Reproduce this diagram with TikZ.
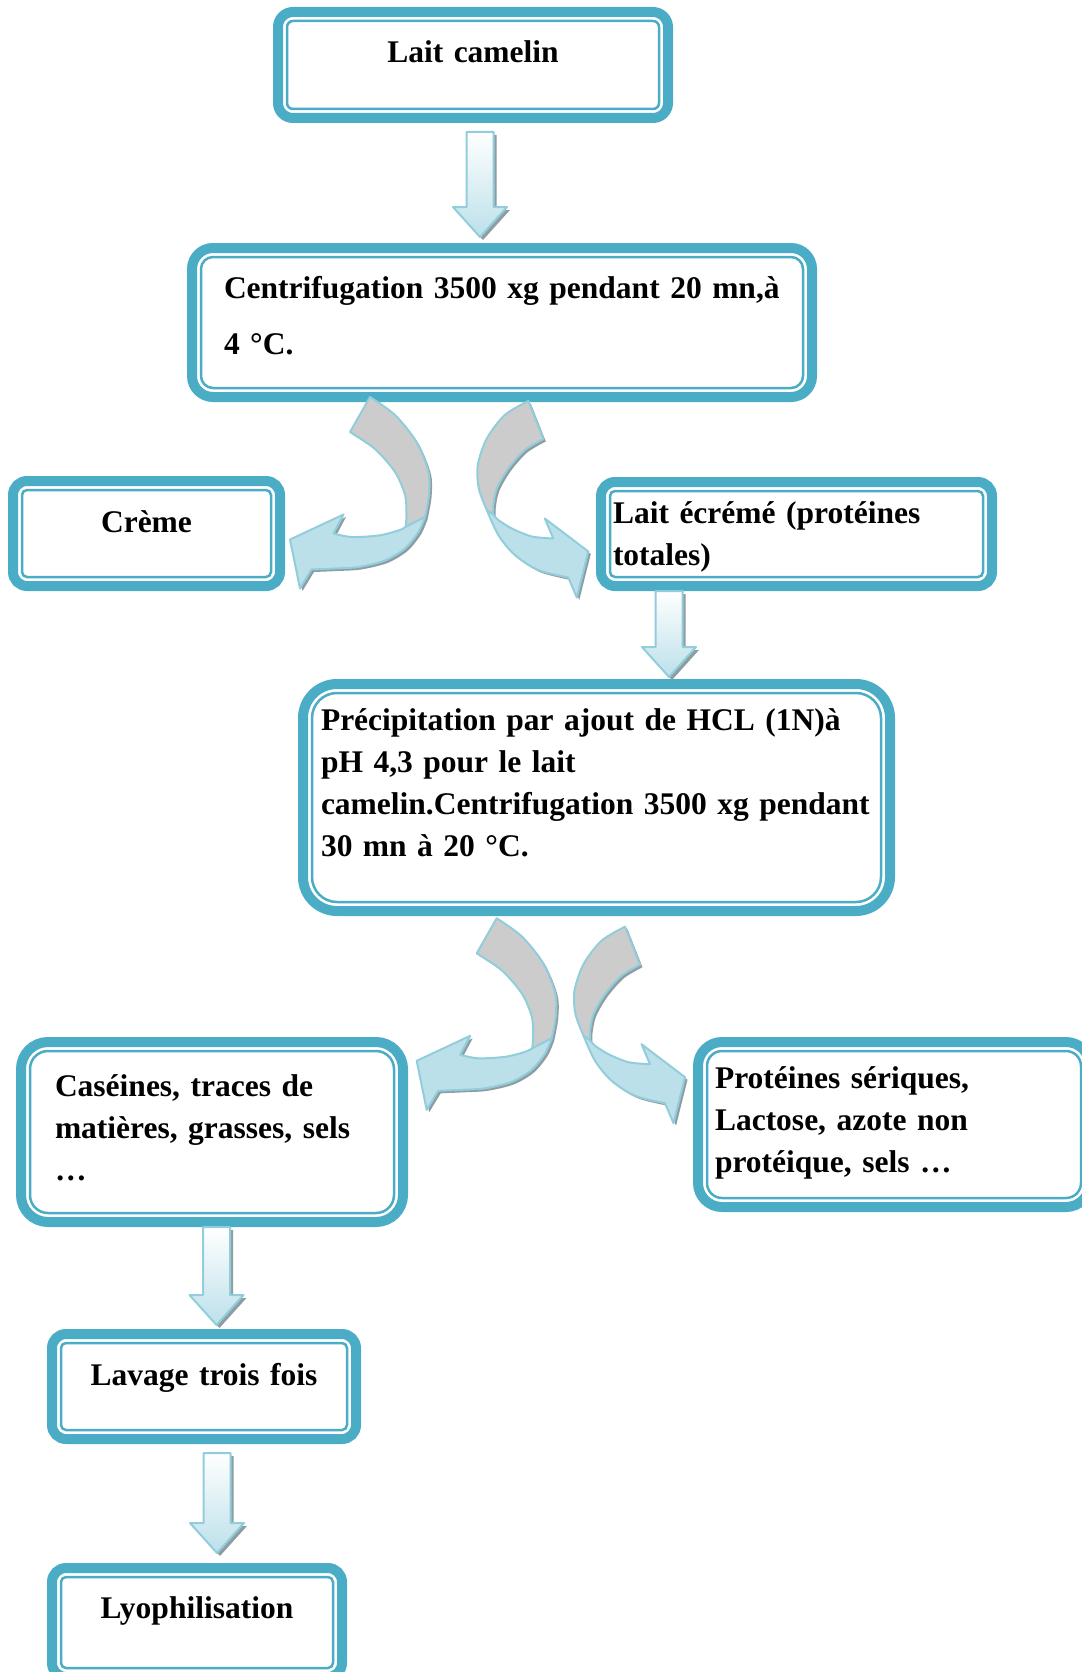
\documentclass[tikz,border=0pt]{standalone}
\usepackage{fontspec}
\setmainfont{Liberation Serif}
\usetikzlibrary{calc}
\hyphenpenalty=10000
\frenchspacing

\definecolor{bleubord}{HTML}{4BACC6}
\definecolor{flechebord}{HTML}{92CDDC}
\definecolor{flechefond}{HTML}{BCE0EA}
\definecolor{dosgris}{HTML}{CCCCCC}
\definecolor{ombregris}{HTML}{8E9DA2}

\tikzset{
  boite/.style={draw=bleubord, line width=10, fill=white, outer sep=0,
    inner ysep=0, rounded corners=#1, font=\bfseries\fontsize{31.5}{42}\selectfont},
  filet/.style={draw=bleubord, line width=2.5},
  ombre/.style={fill=ombregris},
  fleche/.style={draw=flechebord, line width=2, line join=round},
  % --- curved arrow going left (back in grey, front in blue) ---
  dosG/.style={insert path={plot[smooth] coordinates {(0,0) (25,18) (46.5,45) (58.5,75) (59,98) (55,120)}
    -- plot[smooth] coordinates {(35.5,130) (36.5,118) (35,98) (25,75) (5,52) (-20,35)} -- cycle}},
  ventreG/.style={insert path={plot[smooth] coordinates {(55,120) (48.5,135) (35,151.5) (15,163.5) (-11.5,170) (-35,171.5) (-58.5,172.5)}
    -- (-70,191.5) -- (-80,142.5) -- (-26.5,117.5)
    -- plot[smooth] coordinates {(-36.5,136.5) (-18.5,140) (8.5,138.5) (28.5,133.5) (35.5,130)} -- cycle}},
  % --- curved arrow going right ---
  dosD/.style={insert path={plot[smooth] coordinates {(0,0) (-23.5,14) (-41.5,37.5) (-50.5,64) (-49.5,87.5) (-41.5,109)}
    -- plot[smooth] coordinates {(-35,113.5) (-35,104) (-31.5,87.5) (-20,67.5) (-3.5,49) (15,38)} -- cycle}},
  ventreD/.style={insert path={plot[smooth] coordinates {(-41.5,109) (-30,134) (-13.5,154) (10,169) (40,176.5)}
    -- (48.5,196.5) -- (60,150.5) -- (16.5,117.5)
    -- plot[smooth] coordinates {(25,137.5) (3.5,135.5) (-16.5,127.5) (-30,119) (-35,113.5)} -- cycle}},
  courbeG/.pic={
    \fill[ombre, shift={(2.5,2.5)}, dosG, ventreG];
    \filldraw[fleche, fill=dosgris, dosG];
    \filldraw[fleche, fill=flechefond, ventreG];
  },
  courbeD/.pic={
    \fill[ombre, shift={(2.5,2.5)}, dosD, ventreD];
    \filldraw[fleche, fill=dosgris, dosD];
    \filldraw[fleche, fill=flechefond, ventreD];
  },
}

% straight block arrow: #1 = top of the shaft, #2 = level of the tip
\newcommand{\flechebas}[2]{%
  \coordinate (fa) at (#1);
  \coordinate (fz) at (#2);
  \coordinate (fb) at (fa |- fz);
  \fill[ombre, transform canvas={xshift=3, yshift=-3}] ($(fa)+(-13.5,0)$) -- ($(fb)+(-13.5,-30)$) -- ($(fb)+(-27,-30)$)
    -- (fb) -- ($(fb)+(27,-30)$) -- ($(fb)+(13.5,-30)$) -- ($(fa)+(13.5,0)$) -- cycle;
  \shadedraw[fleche, top color=white, bottom color=flechefond] ($(fa)+(-13.5,0)$) -- ($(fb)+(-13.5,-30)$) -- ($(fb)+(-27,-30)$)
    -- (fb) -- ($(fb)+(27,-30)$) -- ($(fb)+(13.5,-30)$) -- ($(fa)+(13.5,0)$) -- cycle;
}

\begin{document}
\begin{tikzpicture}[x=1pt, y=-1pt]
    \useasboundingbox (0,0) rectangle (1081,1672);

    % --- Boxes ---
    \node[boite=15, align=center, text width=390, inner xsep=0, text height=51, text depth=55]
      (lait) at (473,65) {Lait camelin};
    \node[boite=21, align=left, text width=556, inner xsep=32, text height=50, text depth=99]
      (centri) at (502,322.5) {Centrifugation~3500~xg~pendant~20~mn,à\\[14pt]4 °C.};
    \node[boite=14, align=center, text width=267, inner xsep=0, text height=51, text depth=54]
      (creme) at (146.5,533.5) {Crème};
    \node[boite=14, align=left, text width=367, inner xsep=12, text height=41, text depth=63]
      (ecreme) at (796.5,534) {Lait écrémé (protéines\\totales)};
    \node[boite=34, align=left, text width=551, inner xsep=18, text height=46, text depth=181]
      (precip) at (596.5,797.5) {Précipitation par ajout de HCL (1N)à\\pH 4,3 pour le lait\\camelin.Centrifugation~3500~xg~pendant\\30 mn à 20 °C.};
    \node[boite=27, align=left, text width=314, inner xsep=34, text height=54, text depth=126]
      (caseines) at (212,1132) {Caséines, traces de\\matières, grasses, sels\\…};
    \node[boite=24, align=left, text width=358, inner xsep=17, text height=46, text depth=119]
      (proteines) at (894,1124.5) {Protéines sériques,\\Lactose, azote non\\protéique, sels …};
    \node[boite=14, align=center, text width=304, inner xsep=0, text height=51, text depth=54]
      (lavage) at (204,1386.5) {Lavage trois fois};
    \node[boite=14, align=center, text width=290, inner xsep=0, text height=50, text depth=59]
      (lyo) at (197,1622.5) {Lyophilisation};

    % --- thin inner line of each box ---
    \foreach \n/\r in {lait/6, centri/12, creme/5, ecreme/5, precip/25, caseines/18, proteines/15, lavage/5, lyo/5}
      \draw[filet, rounded corners=\r] ([shift={(9,9)}]\n.north west) rectangle ([shift={(-9,-9)}]\n.south east);

    % --- Straight arrows ---
    \flechebas{$(lait.south)+(7,14)$}{$(centri.north)+(0,-11)$}
    \flechebas{$(ecreme.south)+(-127.5,5)$}{$(precip.north)+(0,-7)$}
    \flechebas{$(caseines.south)+(4.5,5)$}{$(lavage.north)+(0,-9)$}
    \flechebas{$(lavage.south)+(13,14)$}{$(lyo.north)+(0,-15)$}

    % --- Curved arrows ---
    \path ($(centri.south)+(-132,0)$) pic {courbeG};
    \path ($(centri.south)+(26.3,4)$) pic {courbeD};
    \path ($(precip.south)+(-99.8,7.3)$) pic {courbeG};
    \path ($(precip.south)+(28.5,15.7)$) pic {courbeD};
\end{tikzpicture}
\end{document}
